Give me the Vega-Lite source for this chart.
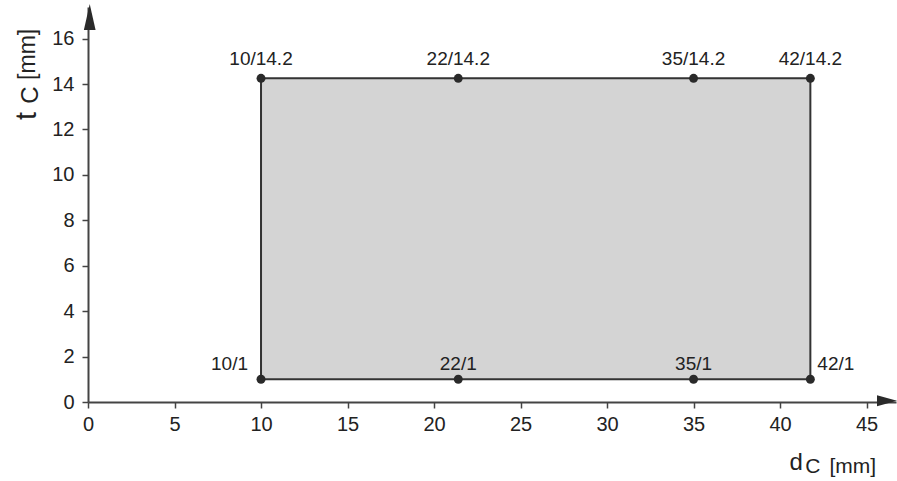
{
  "$schema": "https://vega.github.io/schema/vega-lite/v6.json",
  "width": 808,
  "height": 395,
  "autosize": {"type": "none"},
  "padding": {"left": 88, "top": 7, "right": 1, "bottom": 79},
  "background": "white",
  "config": {
    "view": {"stroke": null},
    "font": "Liberation Sans",
    "text": {"fontWeight": "normal", "font": "Liberation Sans"},
    "axis": {
      "grid": false,
      "domainColor": "#444444",
      "domainWidth": 2,
      "tickColor": "#444444",
      "tickWidth": 1.5,
      "tickSize": 6,
      "labelFont": "Liberation Sans",
      "labelFontSize": 20,
      "labelColor": "#222222",
      "title": null
    }
  },
  "datasets": {
    "points": [
      {"dc": 10, "tc": 1, "label": "10/1"},
      {"dc": 21.4, "tc": 1, "label": "22/1"},
      {"dc": 35, "tc": 1, "label": "35/1"},
      {"dc": 41.75, "tc": 1, "label": "42/1"},
      {"dc": 10, "tc": 14.25, "label": "10/14.2"},
      {"dc": 21.4, "tc": 14.25, "label": "22/14.2"},
      {"dc": 35, "tc": 14.25, "label": "35/14.2"},
      {"dc": 41.75, "tc": 14.25, "label": "42/14.2"}
    ],
    "one": [{"k": 1}]
  },
  "data": {"name": "points"},
  "layer": [
    {
      "transform": [
        {"aggregate": [
          {"op": "min", "field": "dc", "as": "x0"},
          {"op": "max", "field": "dc", "as": "x1"},
          {"op": "min", "field": "tc", "as": "y0"},
          {"op": "max", "field": "tc", "as": "y1"}
        ]}
      ],
      "mark": {"type": "rect", "fill": "#d4d4d4", "stroke": "#333333", "strokeWidth": 2},
      "encoding": {
        "x": {"field": "x0", "type": "quantitative",
              "scale": {"domain": [0, 46.7], "nice": false, "zero": false},
              "axis": {"values": [0, 5, 10, 15, 20, 25, 30, 35, 40, 45], "labelPadding": 6, "labelFlush": false, "title": null}},
        "x2": {"field": "x1"},
        "y": {"field": "y0", "type": "quantitative",
              "scale": {"domain": [0, 17.39], "nice": false, "zero": false},
              "axis": {"values": [0, 2, 4, 6, 8, 10, 12, 14, 16], "labelPadding": 8, "labelFlush": false, "title": null}},
        "y2": {"field": "y1"}
      }
    },
    {
      "mark": {"type": "circle", "size": 80, "color": "#2a2a2a", "opacity": 1},
      "encoding": {
        "x": {"field": "dc", "type": "quantitative"},
        "y": {"field": "tc", "type": "quantitative"}
      }
    },
    {
      "transform": [{"filter": "datum.tc > 7"}],
      "mark": {"type": "text", "fontSize": 19, "fontWeight": "normal", "color": "#222222", "align": "center", "baseline": "alphabetic", "dy": -13},
      "encoding": {
        "x": {"field": "dc", "type": "quantitative"},
        "y": {"field": "tc", "type": "quantitative"},
        "text": {"field": "label"}
      }
    },
    {
      "transform": [{"filter": "datum.tc < 7 && datum.dc > 11 && datum.dc < 41"}],
      "mark": {"type": "text", "fontSize": 19, "fontWeight": "normal", "color": "#222222", "align": "center", "baseline": "alphabetic", "dy": -9},
      "encoding": {
        "x": {"field": "dc", "type": "quantitative"},
        "y": {"field": "tc", "type": "quantitative"},
        "text": {"field": "label"}
      }
    },
    {
      "transform": [{"filter": "datum.tc < 7 && datum.dc < 11"}],
      "mark": {"type": "text", "fontSize": 19, "fontWeight": "normal", "color": "#222222", "align": "right", "baseline": "alphabetic", "dy": -9, "dx": -13},
      "encoding": {
        "x": {"field": "dc", "type": "quantitative"},
        "y": {"field": "tc", "type": "quantitative"},
        "text": {"field": "label"}
      }
    },
    {
      "transform": [{"filter": "datum.tc < 7 && datum.dc > 41"}],
      "mark": {"type": "text", "fontSize": 19, "fontWeight": "normal", "color": "#222222", "align": "left", "baseline": "alphabetic", "dy": -9, "dx": 7},
      "encoding": {
        "x": {"field": "dc", "type": "quantitative"},
        "y": {"field": "tc", "type": "quantitative"},
        "text": {"field": "label"}
      }
    },
    {
      "data": {"name": "one"},
      "mark": {"type": "point", "shape": "M0,-1L0.45,1L-0.45,1Z", "filled": true, "size": 676, "color": "#2a2a2a", "opacity": 1, "clip": false},
      "encoding": {"x": {"datum": 0.1, "type": "quantitative"}, "y": {"datum": 16.95, "type": "quantitative"}}
    },
    {
      "data": {"name": "one"},
      "mark": {"type": "point", "shape": "M1,0L-1,0.55L-1,-0.55Z", "filled": true, "size": 400, "color": "#2a2a2a", "opacity": 1, "clip": false},
      "encoding": {"x": {"datum": 46.18, "type": "quantitative"}, "y": {"datum": 0.05, "type": "quantitative"}}
    },
    {
      "data": {"name": "one"},
      "mark": {"type": "text", "text": "d", "fontSize": 24, "fontWeight": "normal", "color": "#222222", "align": "left", "baseline": "alphabetic", "clip": false},
      "encoding": {"x": {"datum": 40.55, "type": "quantitative"}, "y": {"datum": -2.99, "type": "quantitative"}}
    },
    {
      "data": {"name": "one"},
      "mark": {"type": "text", "text": "C", "fontSize": 21, "fontWeight": "normal", "color": "#222222", "align": "left", "baseline": "alphabetic", "clip": false},
      "encoding": {"x": {"datum": 41.45, "type": "quantitative"}, "y": {"datum": -3.13, "type": "quantitative"}}
    },
    {
      "data": {"name": "one"},
      "mark": {"type": "text", "text": "[mm]", "fontSize": 21, "fontWeight": "normal", "color": "#222222", "align": "left", "baseline": "alphabetic", "clip": false},
      "encoding": {"x": {"datum": 42.85, "type": "quantitative"}, "y": {"datum": -3.13, "type": "quantitative"}}
    },
    {
      "data": {"name": "one"},
      "mark": {"type": "text", "text": "t", "fontSize": 29, "fontWeight": "normal", "color": "#222222", "align": "left", "baseline": "alphabetic", "angle": 270, "clip": false},
      "encoding": {"x": {"datum": -3.0, "type": "quantitative"}, "y": {"datum": 12.42, "type": "quantitative"}}
    },
    {
      "data": {"name": "one"},
      "mark": {"type": "text", "text": "C", "fontSize": 24, "fontWeight": "normal", "color": "#222222", "align": "left", "baseline": "alphabetic", "angle": 270, "clip": false},
      "encoding": {"x": {"datum": -2.89, "type": "quantitative"}, "y": {"datum": 13.13, "type": "quantitative"}}
    },
    {
      "data": {"name": "one"},
      "mark": {"type": "text", "text": "[mm]", "fontSize": 23, "fontWeight": "normal", "color": "#222222", "align": "left", "baseline": "alphabetic", "angle": 270, "clip": false},
      "encoding": {"x": {"datum": -3.06, "type": "quantitative"}, "y": {"datum": 14.18, "type": "quantitative"}}
    }
  ]
}
